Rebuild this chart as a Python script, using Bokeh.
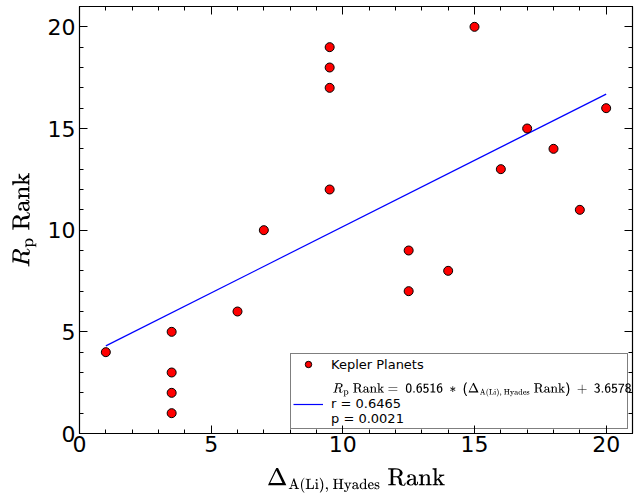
from bokeh.plotting import figure
from bokeh.models import Range1d, LinearAxis, Legend, LegendItem, FixedTicker, CustomJSTickFormatter, Label
from bokeh.embed import file_html
from bokeh.resources import INLINE

x_rank = [1, 3.5, 3.5, 3.5, 3.5, 6, 7, 9.5, 9.5, 9.5, 9.5, 12.5, 12.5, 14, 15, 16, 17, 18, 19, 20]
y_rank = [4, 1, 2, 3, 5, 6, 10, 12, 17, 18, 19, 7, 9, 8, 20, 13, 15, 14, 11, 16]
slope = 0.6516
intercept = 3.6578
r_val = 0.6465
p_val = 0.0021
fit_x = [1, 20]
fit_y = [slope * v + intercept for v in fit_x]
ticks = [0, 5, 10, 15, 20]

p = figure(width=634, height=495, output_backend="svg", toolbar_location=None,
           x_range=Range1d(0, 21), y_range=Range1d(0, 21),
           min_border_left=79, min_border_right=2, min_border_top=6, min_border_bottom=60)
p.outline_line_color = "black"
p.outline_line_width = 1.2
p.xgrid.visible = False
p.ygrid.visible = False

def style_axis(ax, labels=True):
    ax.ticker = FixedTicker(ticks=ticks, minor_ticks=[i for i in range(0, 22)])
    ax.major_tick_in = 8
    ax.major_tick_out = 0
    ax.minor_tick_in = 4
    ax.minor_tick_out = 0
    ax.axis_line_color = "black"
    ax.major_tick_line_color = "black"
    ax.minor_tick_line_color = "black"
    ax.major_label_text_font = "DejaVu Sans"
    ax.major_label_text_font_size = "22px"
    ax.major_label_text_color = "black"
    if not labels:
        ax.formatter = CustomJSTickFormatter(code="return ''")
        ax.major_label_standoff = 0

style_axis(p.xaxis[0])
style_axis(p.yaxis[0])
p.xaxis[0].axis_label = r"$$\Delta_{\small\mathrm{A(Li),\ Hyades}}\ \mathrm{Rank}$$"
p.yaxis[0].axis_label = r"$$R_{\mathrm{p}}\ \mathrm{Rank}$$"
for ax in (p.xaxis[0], p.yaxis[0]):
    ax.axis_label_text_font_size = "20px"
    ax.axis_label_text_font_style = "normal"
    ax.axis_label_text_color = "black"
p.xaxis[0].axis_label_standoff = 13
p.yaxis[0].axis_label_standoff = 8
p.xaxis[0].major_label_standoff = 2
p.yaxis[0].major_label_standoff = 4

top = LinearAxis()
right = LinearAxis()
style_axis(top, False)
style_axis(right, False)
p.add_layout(top, "above")
p.add_layout(right, "right")

line_r = p.line(fit_x, fit_y, line_color="blue", line_width=1.2)
pts = p.scatter(x_rank, y_rank, size=9, fill_color="red", line_color="black", line_width=1)

eq = Label(x=253, y=44, x_units="screen", y_units="screen",
           text=r"$$R_{\mathrm{p}}\ \mathrm{Rank}\ \mathsf{=\ %.4f\ *\ (}\Delta_{\small\mathrm{A(Li),\ Hyades}}\ \mathrm{Rank}\mathsf{)\ +\ %.4f}$$" % (slope, intercept),
           text_font_size="10.5px", text_baseline="middle", text_align="left", text_color="black")
p.add_layout(eq)

legend = Legend(items=[
    LegendItem(label="Kepler Planets", renderers=[pts]),
    LegendItem(label=" \nr = %.4f\np = %.4f" % (r_val, p_val), renderers=[line_r]),
], location="bottom_right")
legend.label_text_font = "DejaVu Sans"
legend.label_text_font_size = "13px"
legend.label_text_color = "black"
legend.label_text_line_height = 1.2
legend.label_width = 294
legend.label_standoff = 8
legend.border_line_color = "black"
legend.border_line_width = 1.2
legend.background_fill_alpha = 0.0
legend.margin = 4
legend.padding = 2
legend.spacing = 9
legend.glyph_width = 30
legend.glyph_height = 16
p.add_layout(legend)

open("out.html", "w").write(file_html(p, INLINE))
